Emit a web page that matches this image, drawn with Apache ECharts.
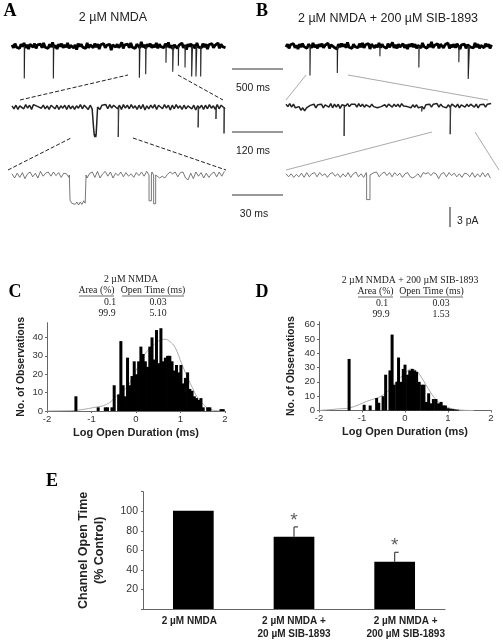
<!DOCTYPE html>
<html><head><meta charset="utf-8">
<style>html,body{margin:0;padding:0;background:#fff}#c{width:503px;height:640px}</style>
<script src="https://cdn.jsdelivr.net/npm/echarts@6/dist/echarts.min.js"></script>
</head><body><div id="c"></div>
<script>
// ---------- traces: baseline noise samples (pA) ----------
const noiseA1=[.2,-.3,.4,-.2,.1,-.4,.3,-.1,.5,-.3,.2,-.5,.3,.1,-.2,.4,-.4,.2,-.1,.3,-.3,.5,-.2,0,-.4,.3,-.2,.6,-.3,.1,-.5,.3,-.1,.4,-.3,.2,-.2,.5,-.4,.1,.3,-.3,.2,-.6,.4,-.1,.3,-.2,.1,-.4,.5,-.3,.2,0,-.3,.4,-.2,.3,-.5,.2,-.1,.4,-.3,.1,-.2,.3,-.7,.2,.4,-.2,.3,-.3,.1,.6,-.4,.2,-.1,.3,-.3,.5,-.2,.1,-.4,.3,0,-.3,.7,-.2,.2,-.4,.3,-.1,.4,-.3,.2,-.2,.5,-.4,.3,-.1,.2,-.3,.4,-.2,.6,-.3,.1,-.5,.2,.3,-.4,.1,-.2,.5,-.3,.2,-.6,.3,-.1,.4,-.3,.2,-.4,.5,-.2,.1,-.3,.4,-.2,.3,-.5,.2,0,.4,-.3,.1,-.2,.5,-.4,.3,-.1,.2,-.3];
const noiseA2=[.2,-.3,.3,-.4,.2,-.1,-.3,.4,-.2,.3,-.4,.4,.7,.1,.4,-.2,.3,-.3,.2,-.4,.3,0,-.3,.3,-.4,.2,-.2,.3,-.4,.3,-.3,.2,-.4,.2,-.2,.4,-.3,.3,.1,-.4,.3,-.3,.5,-.2,.3,-.4,.3,0,.4,-.3,.4,-.2,.3,.5,-.3,.3,-.4,.4,-.2,.3,-.3,.4,-.2,.2,-.4,.3,-.3,.4,-.5,.2,-.3,.3,-.2,.4,-.4,.3,0,-.3,.4,-.2,.3,-.5,.3,-.3,.4,-.2,.2,-.4,.3,-.3,.2,.4,-.3,.3,-.5,.2,-.2,.3,-.4,.3,-.3,.4,-.2,.2,-.4,.4,-.3,.3,.1,-.3];
const noiseA3=[.2,-.5,.3,-.4,.4,-.6,.2,.5,-.3,.3,-.5,.6,-.2,.3,.5,-.2,.5,-.1,.4,-.4,.3,.2,-.4,.5,-.3,.2,.1,-.3,.5,-.5,.3,.5,-.4,.6,-.5,.2,.6,-.2,.5,-.5,.3,-.1,.5,-.3,.4,-.2,.2,-.4,.4,-.1,.5,-.2,.6,-.4,.5,.3,-.2,-.5,-.2,-.5,.1,.5,.2,.5,-.3,.4,.5,-.5,-.8,.3,-.6,.5,-.2,.4,-.5,.3,-.4,.2,.5,-.3,.5,-.2,.6];
const noiseB1=[-.2,.3,-.4,.2,0,.4,-.3,.1,-.5,.3,-.2,.4,-.1,.2,-.4,.3,.1,-.3,.5,-.2,.2,-.4,.3,-.1,.4,-.3,.1,-.2,.5,-.4,.2,.3,-.2,.1,-.5,.3,-.2,.4,-.1,.3,-.3,.6,-.2,.1,-.4,.3,-.1,.2,-.3,.4,-.2,.5,-.3,.2,-.1,.4,-.5,.3,.1,-.3,.2,-.2,.5,-.3,.3,-.1,.2,-.4,.4,-.2,.1,.6,-.3,.2,-.4,.3,-.2,.1,.4,-.3,.2,-.5,.3,-.1,.4,-.2,.3,-.4,.1,.2,-.3,.5,-.1,.2,-.4,.3,-.2,.7,-.3,.1,-.2,.4,-.4,.3,.1,-.3,.2,-.1,.5,-.4,.2,-.2,.3,-.3,.4,.1,-.5,.2,-.1,.3,-.4,.2,.4,-.2,.1,-.3,.5,-.2,.3,-.4,.1,.2,-.3,.4,-.1,.3,-.4,.2];
const noiseB2=[.3,-.1,.4,-.2,.3,-.3,-.5,-.1,-.7,-.3,-.8,-.3,-.6,.1,-.2,.3,-.3,.2,-.1,.3,-.3,.2,.3,-.2,.4,-.3,.3,-.2,.3,-.4,.2,.3,0,.4,-.1,.3,0,.3,-.2,.4,-.1,.3,-.2,.2,.3,-.2,.3,-.1,.2,-.3,-.4,-.1,-.3,.2,-.2,.3,0,-.2,.3,-.1,.3,-.2,.4,0,.3,-.1,.2,-.3,.2,-.2,.2,-.3,-.6,-.1,-.5,.2,-.1,.3,-.2,.3,0,.4,-.2,.3,-.1,.2,-.3,.2,-.2,.3,0,-.2,.3,-.3,.2,.3,-.2,.3,-.1,.3,0,-.2,.3,-.3,.2,-.1,.3,-.2,.3,0,.4];
const noiseB3=[.2,-.3,.2,-.4,.1,-.3,.3,-.4,.4,-.3,.2,.4,-.3,.4,-.1,.2,-.4,.2,.4,-.2,.2,-.4,.2,-.3,.4,-.4,.2,.5,-.3,.2,-.4,.4,-.2,-.1,.4,.5,-.3,.2,.5,-.1,.4,-.3,.4,-.1,.3,-.4,.2,.4,-.3,-.5,-.2,.2,-.4,.4,.2,.4,-.1,.4,.2,-.6,.2,.4,-.3,.4,-.1,.3,-.3,.2,-.4,.3,.2,-.3,.4,-.4,.2,-.3,.4,-.3,.3,-.5];
// single openings: [time ms, level pA, duration ms]
const spikesA1=[[120,-5.4,4],[404,-5.4,4],[1244,-5.3,6],[1306,-4.7,4],[1504,-2.8,3],[1570,-4.3,6],[1625,-3.3,3],[1690,-3.6,3],[1755,-5.1,8],[1797,-5.1,8],[1843,-5.1,4]];
const spikesB1=[[235,-4.9,4],[503,-4.5,4],[921,-1.7,2],[1303,-3.6,3],[1695,-2.7,3],[1787,-5.5,12]];
const spikesA2=[[250,-5,1.5],[438,-3.4,1.5],[480,-2,1],[499,-4.4,1]];
const spikesB2=[[137,-5,1],[387,-4.7,1.5],[320,-.9,1]];
const spikesA3=[[80.3,-4.3,1.4],[83,-4.8,1.2]];
const spikesB3=[[47.5,-4.1,2]];
// burst-shaped openings: [time ms, level pA]
const burstA2=[[191,0],[192,-3.5],[193.5,-4.6],[195,-5],[196,-4.5],[197,-5],[198,-4.6],[199,-4.9],[200,-4.5],[201,-4.8],[201.5,0]];
const burstA3=[[33.6,0],[34,-4.2],[35,-4.7],[36,-4.4],[37,-4.9],[38,-4.5],[39,-5],[40,-4.5],[41,-4.9],[42,-4.3],[42.9,-4.7],[43.4,0]];
const durationsMs={A1:2100,A2:506,A3:126,B1:2030,B2:488,B3:122};
// ---------- histogram C ----------
const histCx=[-1.35,-.85,-.69,-.64,-.54,-.49,-.39,-.34,-.29,-.24,-.19,-.14,-.09,-.04,.01,.06,.11,.16,.21,.26,.31,.36,.41,.46,.51,.56,.61,.66,.71,.76,.81,.86,.91,.96,1.01,1.06,1.11,1.16,1.21,1.26,1.31,1.36,1.41,1.46,1.51,1.61,1.66,1.91,1.96];
const histCy=[8,2,2,2,2,14,9,38,14,8,29,14,19,27,20,27,35,31,27,24,35,40,28,44,26,45,27,29,30,30,27,22,25,21,25,15,18,21,12,11,8,7,6,7,2,2,2,1,1];
const fitCx=[-2,-1.5,-1.33,-.97,-.66,-.44,-.2,0,.2,.4,.5,.65,.75,.88,1.03,1.22,1.44,1.74,2];
const fitCy=[0,.2,.4,1.8,3.6,8,13,22,31,36,38,39,38,34.5,25.5,15,5.5,.4,0];
// ---------- histogram D ----------
const histDx=[-1.3,-.95,-.81,-.66,-.61,-.51,-.45,-.35,-.3,-.25,-.19,-.15,-.09,-.04,0,.06,.11,.17,.22,.27,.33,.39,.44,.5,.55,.6,.66,.72,.78,.84,.89,.94,1,1.05,1.11,1.16,1.22];
const histDy=[36,4,3.5,8.7,5.4,10,25,28,53,18,20,37,20,29,32,25,28,29,28,27,20,18,18,6,12,5,8,8,5,6,3.5,3.5,1.6,1.2,1,.7,.5];
const fitDx=[-2,-1.51,-1.28,-.89,-.5,-.2,0,.15,.25,.35,.54,.74,.97,1.3,1.6];
const fitDy=[0,1.2,1.9,6.4,11,20,26,29,28,24.7,15.3,7,2.4,.3,0];
// ---------- panel E ----------
const categoriesE=['2 µM NMDA','2 µM NMDA +\n20 µM SIB-1893','2 µM NMDA +\n200 µM SIB-1893'];
const openTime=[100.5,73.8,48.3];
const openTimeErr=[null,84,58];
const starLevel=[null,90,65];

function bandPts(noise,total){const dt=total/noise.length;return noise.map((v,i)=>[i*dt,v]);}
function spikePts(spikes){const p=[];spikes.forEach(s=>{p.push([s[0],0],[s[0],s[1]],[s[0]+s[2],s[1]],[s[0]+s[2],0],[s[0]+s[2],null]);});return p;}
function toTrace(noise,total,spikes,burst){
  const dt=total/noise.length, pts=[];
  const holes=[];
  spikes.forEach(s=>holes.push([s[0],s[0]+s[2]]));
  if(burst&&burst.length)holes.push([burst[0][0],burst[burst.length-1][0]]);
  noise.forEach((v,i)=>{const t=i*dt;if(!holes.some(h=>t>=h[0]&&t<=h[1]))pts.push([t,v]);});
  spikes.forEach(s=>{pts.push([s[0],0],[s[0]+.01,s[1]],[s[0]+s[2]-.01,s[1]],[s[0]+s[2],0]);});
  if(burst)burst.forEach(p=>pts.push(p));
  return pts.sort((a,b)=>a[0]-b[0]);
}
const traces=[
 {band:noiseA1,sp:spikesA1,T:durationsMs.A1,l:12,w:215,y:46},
 {d:toTrace(noiseA2,durationsMs.A2,[],burstA2),sp2:spikesA2,T:durationsMs.A2,l:12,w:215,y:107,c:'#222',lw:1.5},
 {d:toTrace(noiseA3,durationsMs.A3,spikesA3,burstA3),T:durationsMs.A3,l:12,w:215,y:175,c:'#555',lw:.8},
 {band:noiseB1,sp:spikesB1,T:durationsMs.B1,l:286,w:207,y:46},
 {d:toTrace(noiseB2,durationsMs.B2,[]),sp2:spikesB2,T:durationsMs.B2,l:286,w:207,y:106,c:'#222',lw:1.5},
 {d:toTrace(noiseB3,durationsMs.B3,spikesB3),T:durationsMs.B3,l:286,w:207,y:175,c:'#555',lw:.8}
];
const grid=[],xAxis=[],yAxis=[],series=[];
const lineSeries=(i,data,color,width)=>({type:'line',xAxisIndex:i,yAxisIndex:i,data,showSymbol:false,symbol:'none',clip:false,connectNulls:false,
    lineStyle:{color,width,join:'bevel'},silent:true});
traces.forEach((t,i)=>{
  grid.push({left:t.l,width:t.w,top:t.y-12,height:51});
  xAxis.push({type:'value',gridIndex:i,min:0,max:t.T,show:false});
  yAxis.push({type:'value',gridIndex:i,min:-6.5,max:2,show:false});
  if(t.band){
    series.push(lineSeries(i,bandPts(t.band,t.T),'#000',2.8));
    series.push(lineSeries(i,spikePts(t.sp),'#222',1.1));
  }else{
    series.push(lineSeries(i,t.d,t.c,t.lw));
    if(t.sp2)series.push(lineSeries(i,spikePts(t.sp2),'#333',1));
  }
});
const axisGray='#666';
function histAxes(gi,left,width,top,height,ymax,ni){
  grid.push({left,width,top,height});
  xAxis.push({type:'value',gridIndex:gi,min:-2,max:2,interval:1,name:'Log Open Duration (ms)',nameLocation:'middle',nameGap:16,
    nameTextStyle:{fontFamily:'Liberation Sans',fontWeight:'bold',fontSize:11,color:'#222'},
    axisLine:{show:true,lineStyle:{color:axisGray,width:1}},axisTick:{show:true,length:2,lineStyle:{color:axisGray}},
    axisLabel:{fontFamily:'Liberation Sans',fontSize:9.5,color:'#333',margin:3},splitLine:{show:false}});
  yAxis.push({type:'value',gridIndex:gi,min:0,max:ymax,interval:10,name:'No. of Observations',nameLocation:'middle',nameGap:ni,
    nameTextStyle:{fontFamily:'Liberation Sans',fontWeight:'bold',fontSize:10.5,color:'#222'},
    axisLine:{show:true,onZero:false,lineStyle:{color:axisGray,width:1}},axisTick:{show:true,length:2,lineStyle:{color:axisGray}},
    axisLabel:{fontFamily:'Liberation Sans',fontSize:9.5,color:'#333',margin:4,showMaxLabel:false},splitLine:{show:false}});
}
function zip(a,b){return a.map((v,i)=>[v,b[i]]);}
histAxes(6,47,178,322.7,88.3,48,20);
series.push({type:'line',xAxisIndex:6,yAxisIndex:6,data:zip(fitCx,fitCy),smooth:.4,showSymbol:false,symbol:'none',lineStyle:{color:'#aaa',width:1},z:1});
series.push({type:'bar',xAxisIndex:6,yAxisIndex:6,data:zip(histCx,histCy),barWidth:3,itemStyle:{color:'#000'},z:2});
histAxes(7,319,172,321.7,88.8,62,22);
series.push({type:'line',xAxisIndex:7,yAxisIndex:7,data:zip(fitDx,fitDy),smooth:.4,showSymbol:false,symbol:'none',lineStyle:{color:'#aaa',width:1},z:1});
series.push({type:'bar',xAxisIndex:7,yAxisIndex:7,data:zip(histDx,histDy),barWidth:3,itemStyle:{color:'#000'},z:2});
// panel E
grid.push({left:143,width:302,top:491.7,height:118});
xAxis.push({type:'category',gridIndex:8,data:categoriesE,
  axisLine:{lineStyle:{color:axisGray}},axisTick:{show:false},
  axisLabel:{interval:0,fontFamily:'Liberation Sans',fontWeight:'bold',fontSize:10,color:'#222',lineHeight:12.5,margin:6,
    formatter:(v,i)=>i===2?v.split('\n').map(s=>'{s|'+s+'}').join('\n'):i===0?'{f|'+v+'}':v,
    rich:{s:{fontFamily:'Liberation Sans',fontWeight:'bold',fontSize:10,color:'#222',lineHeight:12.5,padding:[0,0,0,22]},
          f:{fontFamily:'Liberation Sans',fontWeight:'bold',fontSize:10,color:'#222',padding:[0,8,0,0]}}}});
yAxis.push({type:'value',gridIndex:8,min:0,max:120,interval:20,name:'Channel Open Time\n(% Control)',nameLocation:'middle',nameGap:35,
  nameTextStyle:{fontFamily:'Liberation Sans',fontWeight:'bold',fontSize:12.5,color:'#222',lineHeight:16},
  axisLine:{show:true,lineStyle:{color:axisGray}},axisTick:{show:true,length:2,lineStyle:{color:axisGray}},
  axisLabel:{fontFamily:'Liberation Sans',fontSize:10.5,color:'#333',margin:5,formatter:v=>(v===0||v===120)?'':v},splitLine:{show:false}});
series.push({type:'bar',xAxisIndex:8,yAxisIndex:8,data:openTime,barWidth:40.7,itemStyle:{color:'#000'},z:2});
series.push({type:'custom',xAxisIndex:8,yAxisIndex:8,z:1,
  data:openTimeErr.map((e,i)=>[i,openTime[i],e]).filter(d=>d[2]!==null),
  encode:{x:0,y:[1,2]},
  renderItem:(p,api)=>{const a=api.coord([api.value(0),api.value(1)]),b=api.coord([api.value(0),api.value(2)]);
    const st={stroke:'#444',lineWidth:1.2};
    return {type:'group',children:[
      {type:'line',shape:{x1:a[0],y1:a[1],x2:b[0],y2:b[1]},style:st},
      {type:'line',shape:{x1:b[0],y1:b[1],x2:b[0]+4,y2:b[1]},style:st}]};}});
series.push({type:'scatter',xAxisIndex:8,yAxisIndex:8,symbolSize:1,itemStyle:{color:'transparent'},
  data:starLevel.map((s,i)=>[i,s]).filter(d=>d[1]!==null),
  label:{show:true,position:'inside',formatter:'*',fontFamily:'Liberation Sans',fontSize:19,color:'#333'}});

// ---------- annotations ----------
const sans='Liberation Sans',serif='Liberation Serif';
const txt=(text,x,y,fs,font,extra)=>({type:'text',x,y,silent:true,style:Object.assign({text,fontSize:fs,fontFamily:font,fill:'#222',align:'center',verticalAlign:'middle'},extra||{})});
const seg=(x1,y1,x2,y2,stroke,lw,dash)=>({type:'line',silent:true,shape:{x1,y1,x2,y2},style:{stroke,lineWidth:lw,lineDash:dash||null}});
const letter=(t,x,y)=>txt(t,x,y,18,serif,{fontWeight:'bold',fill:'#000'});
const graphic=[
 letter('A',10,11),letter('B',262,11),letter('C',15,292),letter('D',262,292),letter('E',52,481),
 txt('2 µM NMDA',113,18,12.5,sans),txt('2 µM NMDA + 200 µM SIB-1893',388,19,12.5,sans),
 seg(232,69,283,69,'#333',1),seg(232,132,283,132,'#333',1),seg(232,195,283,195,'#333',1),
 txt('500 ms',253,88,10.4,sans),txt('120 ms',253,151,10.4,sans),txt('30 ms',254,214,10.4,sans),
 seg(450,207,450,227,'#444',1.2),txt('3 pA',457,221,10.4,sans,{align:'left'}),
 seg(20,100,128,75,'#222',1,[4,2]),seg(178,75,223,100,'#222',1,[4,2]),
 seg(8,170,71,138,'#222',1,[4,2]),seg(133,138,226,170,'#222',1,[4,2]),
 seg(286,100,306,75,'#aaa',1),seg(348,75,488,100,'#aaa',1),
 seg(286,170,432,132,'#aaa',1),seg(475,132,499,170,'#aaa',1),
 txt('2 µM NMDA',131,279,9.8,serif),
 txt('Area (%)',96.5,290.5,9.8,serif),seg(79,296,114,296,'#444',.8),
 txt('Open Time (ms)',153,290.5,9.8,serif),seg(122,296,184,296,'#444',.8),
 txt('0.1',110,302,9.8,serif),txt('0.03',158,302,9.8,serif),txt('99.9',107,313,9.8,serif),txt('5.10',158,313,9.8,serif),
 txt('2 µM NMDA + 200 µM SIB-1893',410,280,9.8,serif),
 txt('Area (%)',375.5,291.5,9.8,serif),seg(358,297,393,297,'#444',.8),
 txt('Open Time (ms)',431.5,291.5,9.8,serif),seg(400,297,463,297,'#444',.8),
 txt('0.1',382,303,9.8,serif),txt('0.03',441,303,9.8,serif),txt('99.9',381,314,9.8,serif),txt('1.53',441,314,9.8,serif)
];
const chart=echarts.init(document.getElementById('c'),null,{renderer:'canvas'});
chart.setOption({animation:false,backgroundColor:'#fff',grid,xAxis,yAxis,series,graphic,tooltip:{show:false},legend:{show:false}});
</script></body></html>
